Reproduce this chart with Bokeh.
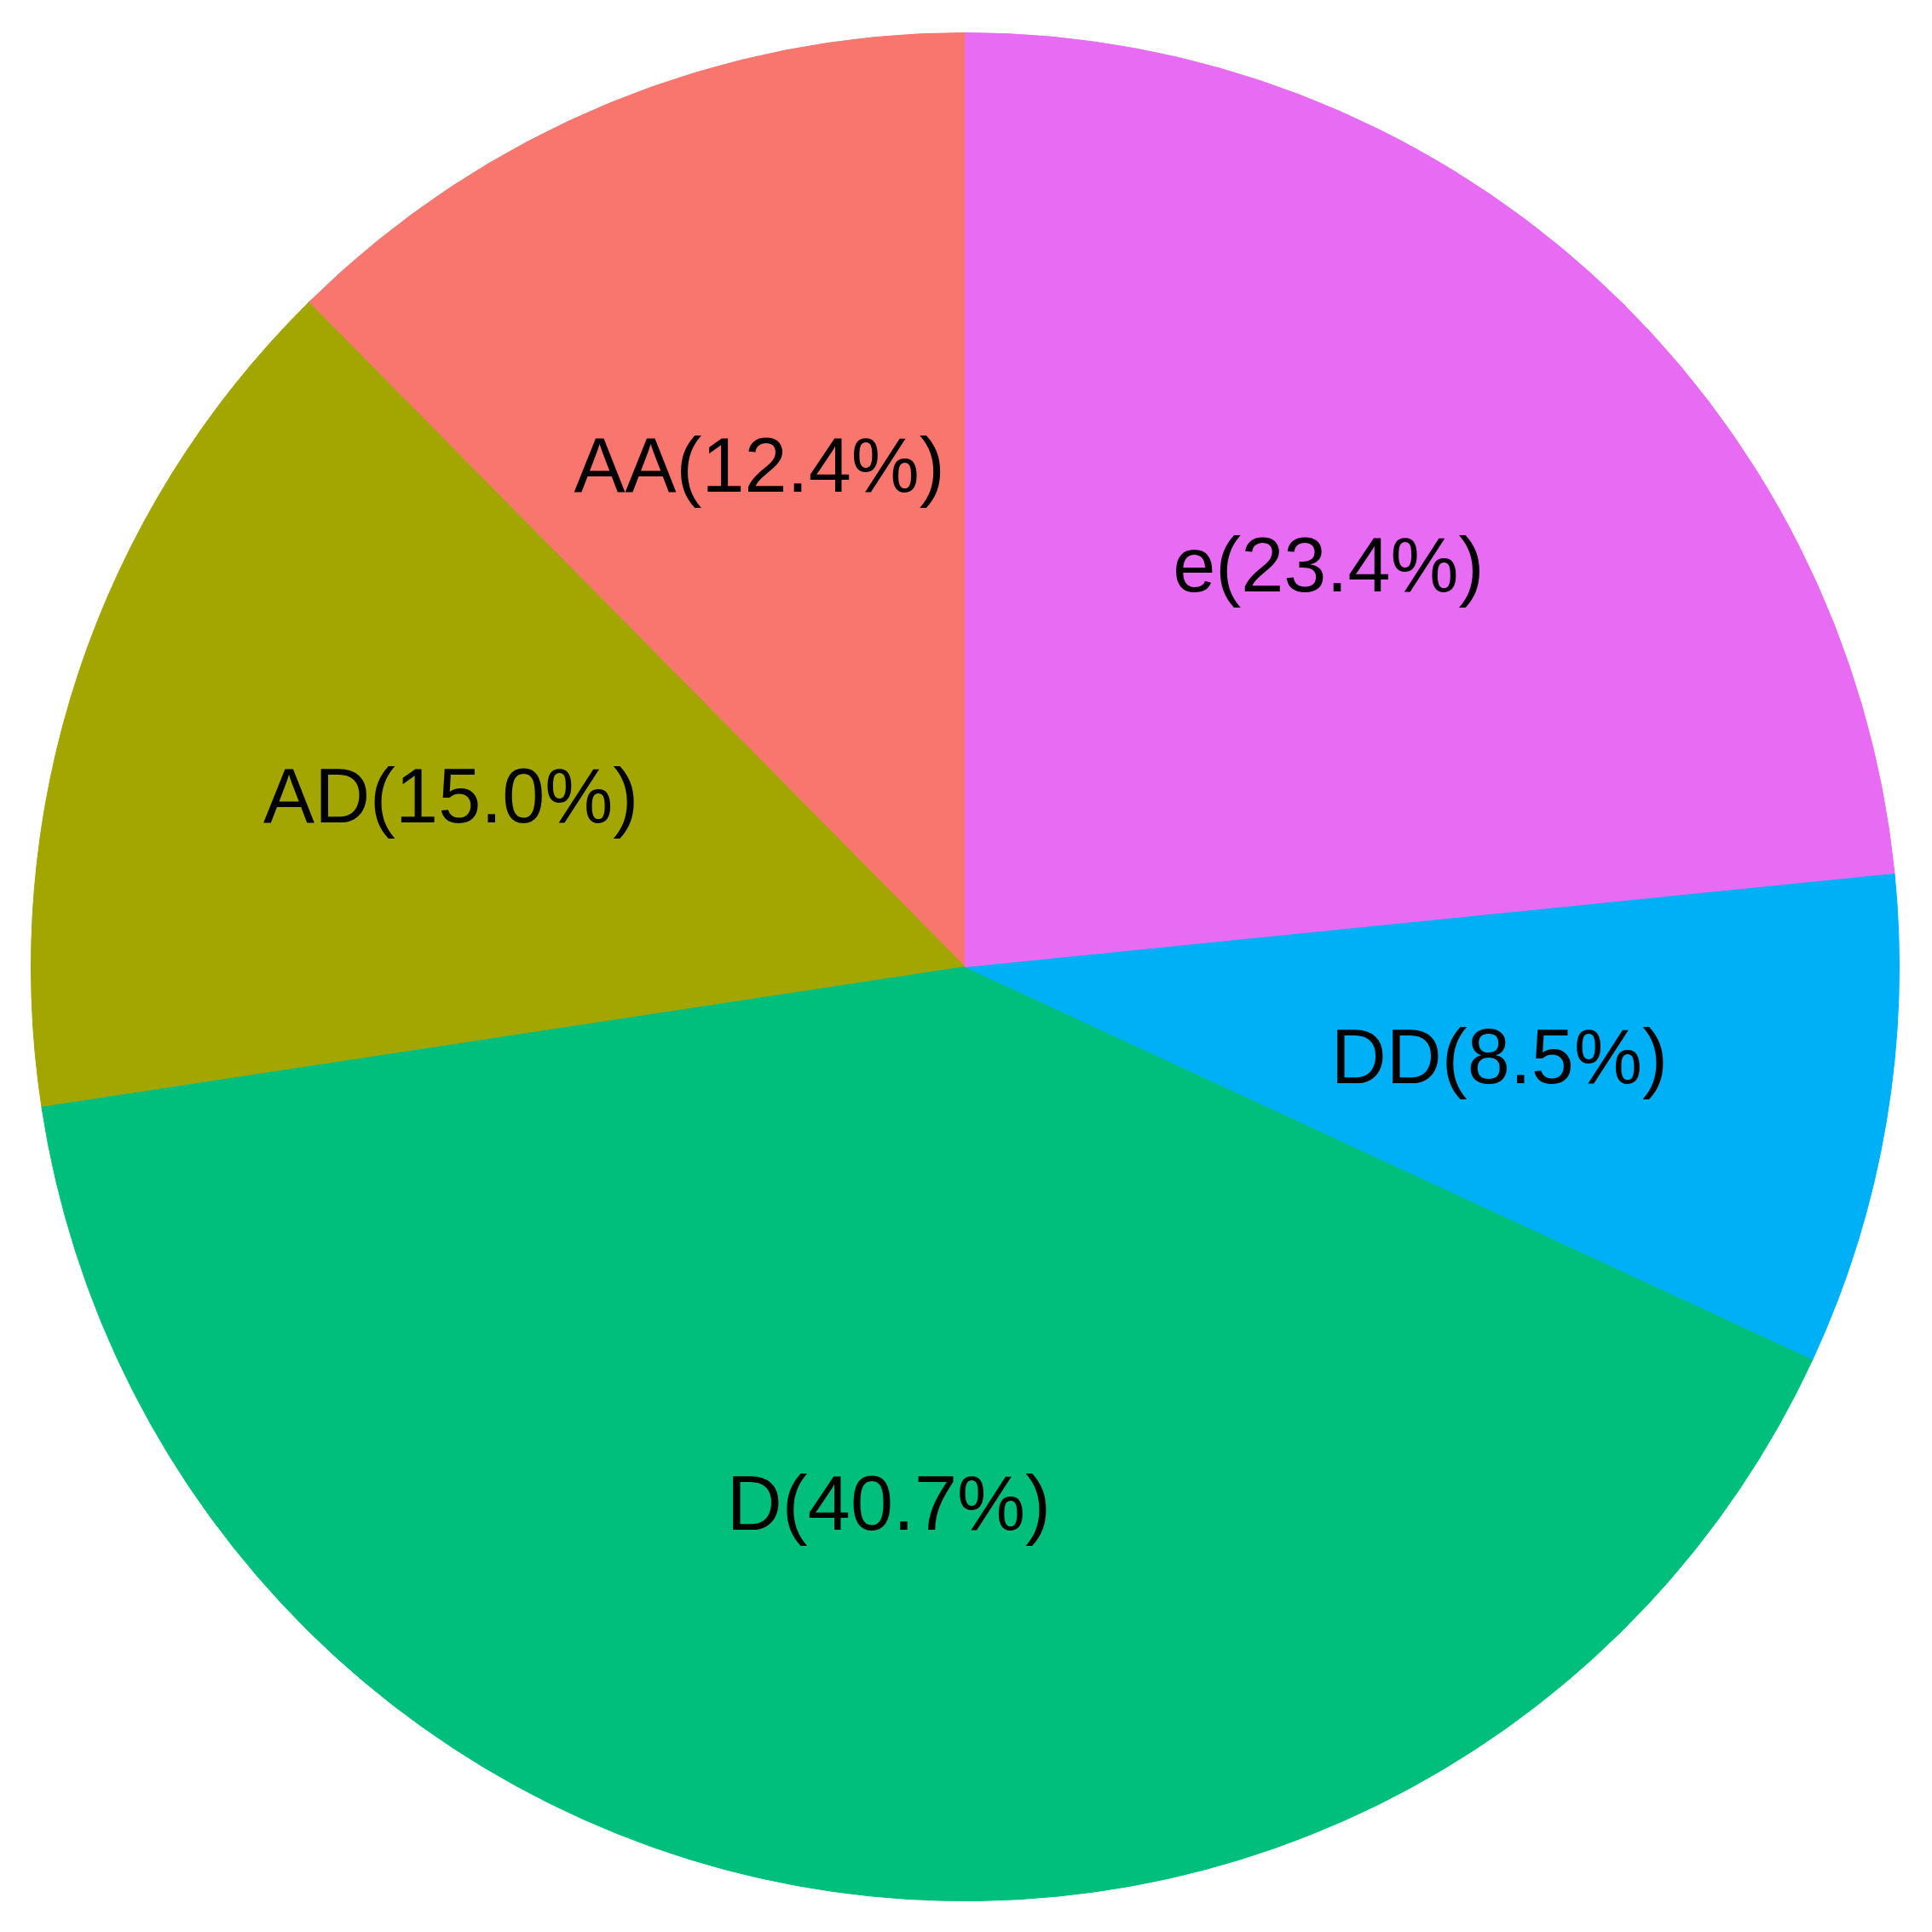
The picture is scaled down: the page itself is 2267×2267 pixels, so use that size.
import numpy as np
from bokeh.plotting import figure
from bokeh.models import ColumnDataSource
from bokeh.core.properties import value
from bokeh.embed import file_html
from bokeh.resources import INLINE

# Data (counter-clockwise from 12 o'clock)
categories = ["AA", "AD", "D", "DD", "e"]
percents = [12.4, 15.0, 40.7, 8.5, 23.4]
colors = ["#F8766D", "#A3A500", "#00BF7D", "#00B0F6", "#E76BF3"]

W = H = 2251
cx, cy, R = 1132, 1117, 1096
label_frac = 0.58

vals = np.array(percents)
frac = vals / vals.sum()
ends = np.pi / 2 + 2 * np.pi * np.cumsum(frac)
starts = ends - 2 * np.pi * frac
mids = (starts + ends) / 2

src = ColumnDataSource(dict(
    start=starts, end=ends, color=colors,
    lx=cx + label_frac * R * np.cos(mids),
    ly=cy + label_frac * R * np.sin(mids),
    label=[f"{c}({v:.1f}%)" for c, v in zip(categories, percents)],
))

p = figure(width=W, height=H, x_range=(0, W), y_range=(0, H),
           output_backend="svg", toolbar_location=None, min_border=0)
p.axis.visible = False
p.grid.visible = False
p.outline_line_color = None
p.background_fill_color = "white"

p.wedge(x=cx, y=cy, radius=R, start_angle="start", end_angle="end",
        direction="anticlock", fill_color="color", line_color="color",
        line_width=1, source=src)
p.text(x="lx", y="ly", text="label", source=src,
       text_font=value("Liberation Sans"), text_font_size="90px",
       text_align="center", text_baseline="middle", text_color="black")

open("out.html", "w").write(file_html(p, INLINE))
